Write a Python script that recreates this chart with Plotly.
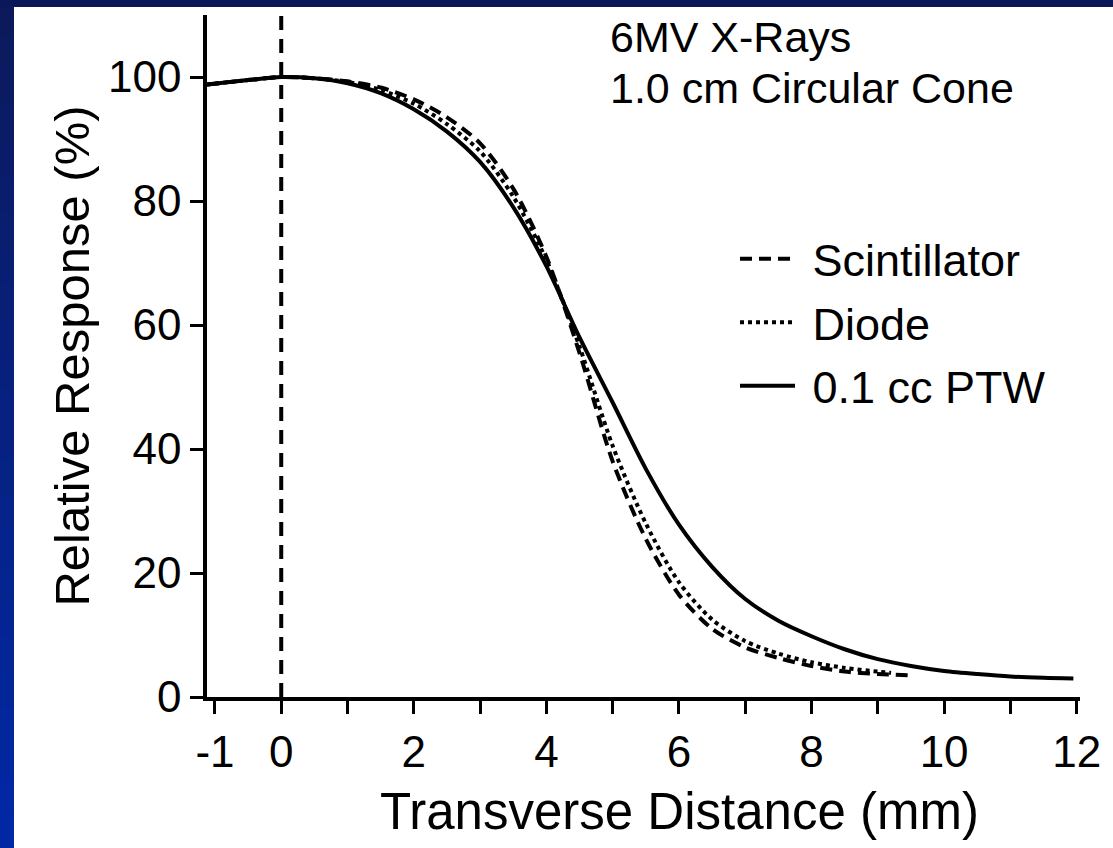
import plotly.graph_objects as go

# ---------------- data ----------------
x_ptw = [-1.12, -0.5, 0, 0.5, 1.0, 1.5, 2.0, 2.5, 3.0, 3.5, 4.0, 4.5, 5.0, 5.5,
         6.0, 6.5, 7.0, 7.5, 8.0, 8.5, 9.0, 9.5, 10.0, 10.5, 11.0, 11.5, 11.95]
y_ptw = [98.8, 99.5, 100, 99.8, 99.0, 97.4, 94.8, 91.2, 86.3, 79.0, 69.5, 58.0,
         47.5, 36.8, 27.8, 21.0, 15.8, 12.3, 9.8, 7.7, 6.1, 5.0, 4.2, 3.7, 3.3, 3.1, 3.0]

x_scint = [-1.12, -0.5, 0, 0.5, 1.0, 1.5, 2.0, 2.5, 3.0, 3.5, 4.0, 4.5, 5.0, 5.5,
           6.0, 6.5, 7.0, 7.5, 8.0, 8.5, 9.0, 9.45]
y_scint = [98.8, 99.5, 100, 99.8, 99.3, 98.3, 96.4, 93.5, 89.3, 82.0, 71.0, 55.5,
           38.0, 25.5, 16.5, 11.0, 8.0, 6.3, 5.0, 4.1, 3.7, 3.5]

x_diode = [-1.12, -0.5, 0, 0.5, 1.0, 1.5, 2.0, 2.5, 3.0, 3.5, 4.0, 4.5, 5.0, 5.5,
           6.0, 6.5, 7.0, 7.5, 8.0, 8.5, 9.0, 9.2]
y_diode = [98.8, 99.5, 100, 99.8, 99.2, 97.9, 95.7, 92.4, 88.0, 80.7, 70.5, 56.5,
           40.5, 28.0, 18.5, 12.5, 9.0, 7.0, 5.6, 4.7, 4.1, 3.9]

series_names = ["Scintillator", "Diode", "0.1 cc PTW"]
center_x = 0

x_tick_vals = list(range(-1, 13))
x_tick_text = ["-1", "0", "", "2", "", "4", "", "6", "", "8", "", "10", "", "12"]
y_tick_vals = [0, 20, 40, 60, 80, 100]

x_title = "Transverse Distance (mm)"
y_title = "Relative Response (%)"
title_lines = ["6MV X-Rays", "1.0 cm Circular Cone"]

# ---------------- figure ----------------
W, H = 1113, 848
ML, MR, MT, MB = 207, 33, 15, 151
PW, PH = W - ML - MR, H - MT - MB

FONT = "Liberation Sans, Arial, Helvetica, sans-serif"
NBSP = "\u00a0"

def px_to_paper_x(px):
    return (px - ML) / PW

def py_to_paper_y(py):
    return (H - MB - py) / PH

fig = go.Figure()

fig.add_trace(go.Scatter(
    x=x_scint, y=y_scint, mode="lines", name=NBSP + series_names[0],
    line=dict(color="black", width=4, dash="12px,7px", shape="spline", smoothing=0.8),
    legendgroup="a"))
fig.add_trace(go.Scatter(
    x=x_diode, y=y_diode, mode="lines", name=NBSP + series_names[1],
    line=dict(color="black", width=4, dash="4px,4px", shape="spline", smoothing=0.8),
    legendgroup="b"))
fig.add_trace(go.Scatter(
    x=x_ptw, y=y_ptw, mode="lines", name=NBSP + series_names[2],
    line=dict(color="black", width=4, shape="spline", smoothing=0.8),
    legendgroup="c"))

shapes = []
# blue slide frame (left strip gradient + top strip)
n_seg = 24
c_top = (12, 26, 92)
c_bot = (0, 40, 165)
for i in range(n_seg):
    t = i / (n_seg - 1)
    col = tuple(int(round(c_top[k] + (c_bot[k] - c_top[k]) * t)) for k in range(3))
    y0 = i * H / n_seg
    y1 = (i + 1) * H / n_seg + 1
    shapes.append(dict(type="rect", xref="paper", yref="paper",
                       x0=px_to_paper_x(0), x1=px_to_paper_x(14),
                       y0=py_to_paper_y(y1), y1=py_to_paper_y(y0),
                       fillcolor="rgb(%d,%d,%d)" % col, line=dict(width=0), layer="below"))
shapes.append(dict(type="rect", xref="paper", yref="paper",
                   x0=px_to_paper_x(0), x1=px_to_paper_x(W),
                   y0=py_to_paper_y(7), y1=py_to_paper_y(0),
                   fillcolor="rgb(10,24,90)", line=dict(width=0), layer="below"))
# vertical dashed centre line
shapes.append(dict(type="line", xref="x", yref="y", x0=center_x, x1=center_x,
                   y0=0, y1=110, line=dict(color="black", width=4, dash="14px,9px"),
                   layer="above"))

annotations = [
    dict(text=title_lines[0], xref="paper", yref="paper",
         x=px_to_paper_x(608), y=py_to_paper_y(37), xanchor="left", yanchor="middle",
         showarrow=False, font=dict(family=FONT, size=43, color="black")),
    dict(text=title_lines[1], xref="paper", yref="paper",
         x=px_to_paper_x(608), y=py_to_paper_y(88), xanchor="left", yanchor="middle",
         showarrow=False, font=dict(family=FONT, size=43, color="black")),
    # x-axis title (placed as in the reference, slightly right of the plot centre)
    dict(text=x_title, xref="paper", yref="paper",
         x=px_to_paper_x(679), y=py_to_paper_y(811), xanchor="center", yanchor="middle",
         showarrow=False, font=dict(family=FONT, size=51, color="black")),
]

fig.update_layout(
    width=W, height=H,
    margin=dict(l=ML, r=MR, t=MT, b=MB, pad=0),
    paper_bgcolor="white", plot_bgcolor="white",
    font=dict(family=FONT, color="black", size=44),
    shapes=shapes, annotations=annotations,
    showlegend=True,
    legend=dict(x=px_to_paper_x(735), y=py_to_paper_y(223), xanchor="left", yanchor="top",
                bgcolor="rgba(0,0,0,0)", font=dict(family=FONT, size=45, color="black"),
                itemwidth=55, tracegroupgap=2, itemclick=False),
    xaxis=dict(range=[-1.12, 12.05], showline=True, linecolor="black", linewidth=3.5,
               ticks="outside", ticklen=13, tickwidth=2.5, tickcolor="black",
               tickvals=x_tick_vals, ticktext=x_tick_text, showgrid=False, zeroline=False,
               tickfont=dict(family=FONT, size=44, color="black")),
    yaxis=dict(range=[0, 110], showline=True, linecolor="black", linewidth=3.5,
               ticks="outside", ticklen=13, tickwidth=2.5, tickcolor="black",
               tickvals=y_tick_vals, showgrid=False, zeroline=False,
               tickfont=dict(family=FONT, size=44, color="black"),
               title=dict(text=y_title, standoff=4,
                          font=dict(family=FONT, size=49, color="black"))),
)

fig.write_html("out.html")
